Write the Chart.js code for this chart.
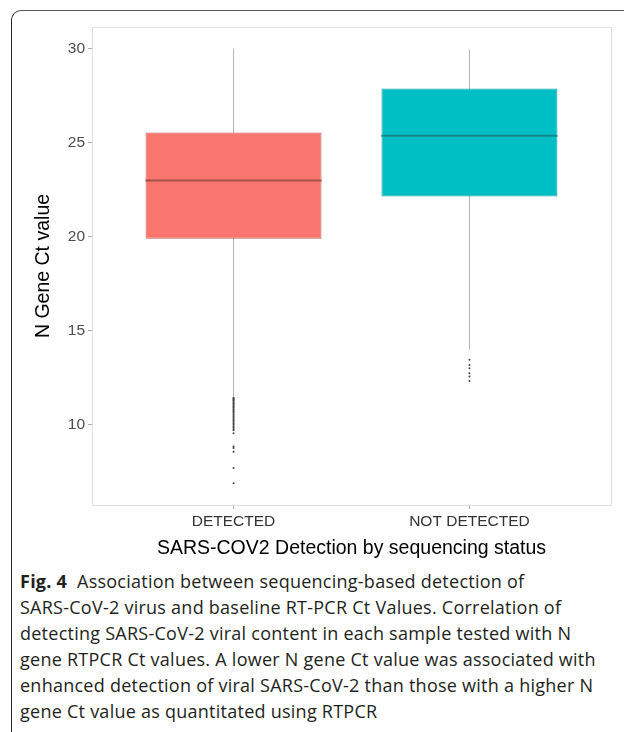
<!DOCTYPE html>
<html>
<head>
<meta charset="utf-8">
<script src="https://cdn.jsdelivr.net/npm/chart.js@4/dist/chart.umd.min.js"></script>
<style>
  html, body { margin: 0; padding: 0; background: #fff; }
  body { width: 624px; height: 732px; position: relative; overflow: hidden; }
  .frame {
    position: absolute; left: 11px; top: 10px; width: 640px; height: 730px;
    border-left: 1.5px solid #222; border-top: 1.5px solid #555;
    border-top-left-radius: 10px;
  }
  #wrap { position: absolute; left: 0; top: 0; width: 624px; height: 560px; }
  .caption {
    position: absolute; left: 20px; top: 568px; width: 600px;
    font-family: "Open Sans", sans-serif; font-size: 18px; line-height: 26px;
    letter-spacing: 0.25px; color: #231f20; white-space: nowrap;
  }
  .caption b { font-weight: 700; }
</style>
</head>
<body>
<div class="frame"></div>
<div id="wrap"><canvas id="chart"></canvas></div>
<div class="caption">
  <b>Fig. 4</b>&nbsp; Association between sequencing-based detection of<br>
  SARS-CoV-2 virus and baseline RT-PCR Ct Values. Correlation of<br>
  detecting SARS-CoV-2 viral content in each sample tested with N<br>
  gene RTPCR Ct values. A lower N gene Ct value was associated with<br>
  enhanced detection of viral SARS-CoV-2 than those with a higher N<br>
  gene Ct value as quantitated using RTPCR
</div>
<script>
// categories and box statistics
const categories = ['DETECTED', 'NOT DETECTED'];
const whiskerLow = [11.5, 14.0];
const q1 = [19.9, 22.15];
const median = [23.0, 25.37];
const q3 = [25.55, 27.89];
const whiskerHigh = [30.0, 29.95];
const outliersDetected = [11.45, 11.41, 11.36, 11.31, 11.27, 11.22, 11.16, 11.12, 11.05, 11.0,
  10.94, 10.9, 10.83, 10.78, 10.71, 10.66, 10.58, 10.52, 10.44, 10.37, 10.3, 10.22,
  10.16, 10.08, 10.01, 9.93, 9.86, 9.78, 9.72, 9.56, 8.85, 8.78, 8.58, 7.71, 6.9];
const outliersNotDetected = [13.46, 13.19, 13.01, 12.75, 12.57, 12.34];
const yTicks = [10, 15, 20, 25, 30];

const fills = ['#F8766D', '#00BFC4'];
const boxWidth = 0.746;
const xPos = categories.map((c, i) => i + 1);

const axisFont = { family: '"Liberation Sans", Arial, sans-serif', size: 15.5 };
const titleFont = { family: '"Liberation Sans", Arial, sans-serif', size: 19.5 };

const whiskerData = [];
xPos.forEach((x, i) => {
  whiskerData.push({ x: x, y: whiskerLow[i] }, { x: x, y: whiskerHigh[i] }, { x: x, y: null });
});

const medianData = [];
xPos.forEach((x, i) => {
  medianData.push({ x: x - boxWidth / 2, y: median[i] }, { x: x + boxWidth / 2, y: median[i] }, { x: x, y: null });
});

const outlierData = outliersDetected.map(v => ({ x: 1, y: v }))
  .concat(outliersNotDetected.map(v => ({ x: 2, y: v })));

const panelBorder = {
  id: 'panelBorder',
  beforeDatasetsDraw(chart) {
    const a = chart.chartArea, ctx = chart.ctx;
    ctx.save();
    ctx.strokeStyle = '#e2e2e2';
    ctx.lineWidth = 1;
    ctx.strokeRect(a.left + 0.5, a.top + 0.5, a.right - a.left, a.bottom - a.top);
    ctx.restore();
  }
};

new Chart(document.getElementById('chart'), {
  type: 'bar',
  data: {
    datasets: [
      {
        type: 'line',
        data: whiskerData,
        borderColor: '#b3b3b3',
        borderWidth: 1,
        pointRadius: 0,
        spanGaps: false,
        order: 4
      },
      {
        type: 'bar',
        data: xPos.map((x, i) => ({ x: x, y: [q1[i], q3[i]] })),
        backgroundColor: fills,
        borderColor: ['#c8625b', '#1a9ea2'],
        borderWidth: 1,
        borderSkipped: false,
        grouped: false,
        categoryPercentage: 1,
        barPercentage: boxWidth,
        order: 3
      },
      {
        type: 'line',
        data: medianData,
        segment: { borderColor: ctx => ctx.p0DataIndex < 3 ? '#a4514b' : '#13878a' },
        borderWidth: 2,
        pointRadius: 0,
        spanGaps: false,
        order: 2
      },
      {
        type: 'scatter',
        data: outlierData,
        backgroundColor: '#444',
        borderWidth: 0,
        pointRadius: 1,
        order: 1
      }
    ]
  },
  options: {
    responsive: true,
    maintainAspectRatio: false,
    animation: false,
    layout: { padding: { left: 0, right: 13, top: 27, bottom: 0 } },
    plugins: { legend: { display: false }, tooltip: { enabled: false } },
    scales: {
      x: {
        type: 'linear',
        min: 0.4,
        max: 2.6,
        offset: false,
        afterBuildTicks: s => { s.ticks = xPos.map(v => ({ value: v })); },
        afterFit: s => { s.height = 55; },
        ticks: {
          callback: v => categories[v - 1],
          font: axisFont,
          color: '#333',
          padding: 3,
          maxRotation: 0,
          autoSkip: false
        },
        grid: { drawOnChartArea: false, offset: false, tickLength: 4, color: '#aaa' },
        border: { color: '#999', width: 1 },
        title: {
          display: true,
          text: 'SARS-COV2 Detection by sequencing status',
          font: titleFont,
          color: '#000',
          padding: { top: 0, bottom: 0 }
        }
      },
      y: {
        min: 5.745,
        max: 31.155,
        afterBuildTicks: s => { s.ticks = yTicks.map(v => ({ value: v })); },
        afterFit: s => { s.width = 92; },
        ticks: { font: axisFont, color: '#4d4d4d', padding: 3 },
        grid: { drawOnChartArea: false, tickLength: 4, color: '#aaa' },
        border: { color: '#999', width: 1 },
        title: {
          display: true,
          text: 'N Gene Ct value',
          font: titleFont,
          color: '#000',
          padding: { top: 32, bottom: 32 }
        }
      }
    }
  },
  plugins: [panelBorder]
});
</script>
</body>
</html>
